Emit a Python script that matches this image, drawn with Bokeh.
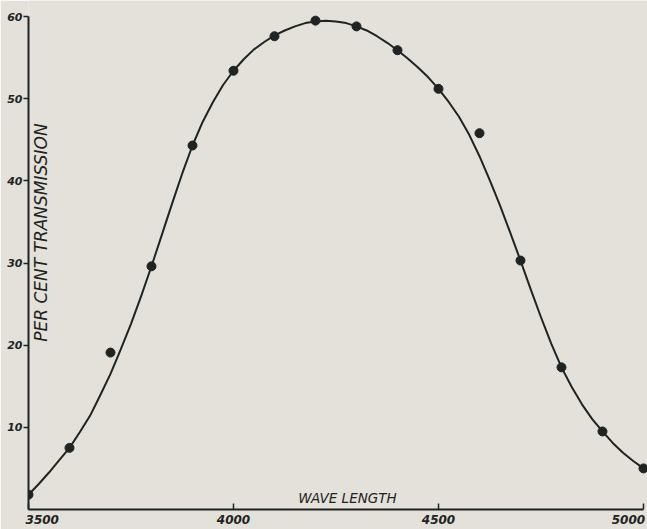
import math
from bokeh.plotting import figure
from bokeh.models import Range1d, Label, FixedTicker
from bokeh.embed import file_html
from bokeh.resources import INLINE

# Measured transmission points
dot_wl = [3500, 3600, 3700, 3800, 3900, 4000, 4100, 4200, 4300, 4400, 4500, 4600, 4700, 4800, 4900, 5000]
dot_pct = [1.8, 7.5, 19.1, 29.6, 44.3, 53.4, 57.6, 59.5, 58.8, 55.9, 51.2, 45.8, 30.3, 17.3, 9.5, 5.0]

# Smooth hand-drawn curve
curve_wl = [3500, 3525, 3550, 3575, 3600, 3625, 3650, 3675, 3700, 3725, 3750, 3775, 3800, 3825,
            3850, 3875, 3900, 3925, 3950, 3975, 4000, 4025, 4050, 4075, 4100, 4125, 4150, 4175,
            4200, 4225, 4250, 4275, 4300, 4325, 4350, 4375, 4400, 4425, 4450, 4475, 4500, 4525,
            4550, 4575, 4600, 4625, 4650, 4675, 4700, 4725, 4750, 4775, 4800, 4825, 4850, 4875,
            4900, 4925, 4950, 4975, 5000]
curve_pct = [1.8, 3.1, 4.5, 6.0, 7.5, 9.4, 11.4, 13.9, 16.5, 19.5, 22.6, 26.0, 29.6, 33.4,
             37.2, 40.9, 44.3, 47.2, 49.6, 51.7, 53.4, 54.8, 56.0, 56.9, 57.7, 58.3, 58.8, 59.2,
             59.4, 59.5, 59.4, 59.2, 58.8, 58.3, 57.6, 56.8, 55.9, 54.9, 53.8, 52.6, 51.2, 49.6,
             47.8, 45.6, 43.0, 40.1, 37.0, 33.7, 30.3, 26.8, 23.4, 20.2, 17.3, 14.9, 12.8, 11.0,
             9.5, 8.1, 6.9, 5.9, 5.0]

x_ticks = [3500, 4000, 4500, 5000]
x_tick_labels = ["3500", "4000", "4500", "5000"]
y_ticks = [10, 20, 30, 40, 50, 60]

PAPER = "#e3e1da"
INK = "#1f2322"
FS = "\u2007"  # figure space, nudges the first label to the right of its tick

p = figure(width=647, height=529, output_backend="svg", toolbar_location=None,
           x_range=Range1d(3500, 5009.8), y_range=Range1d(0, 61.95),
           min_border_left=28, min_border_right=0, min_border_top=0, min_border_bottom=20)
p.background_fill_color = PAPER
p.border_fill_color = PAPER
p.outline_line_color = None
p.xgrid.visible = False
p.ygrid.visible = False

# x axis
xa = p.xaxis[0]
xa.ticker = FixedTicker(ticks=x_ticks)
xa.bounds = (3500, 5000)
xa.axis_line_color = INK
xa.axis_line_width = 2
xa.major_tick_line_color = INK
xa.major_tick_line_width = 1.5
xa.major_tick_in = 6
xa.major_tick_out = 0
xa.minor_tick_line_color = None
overrides = {tv: tl for tv, tl in zip(x_ticks, x_tick_labels)}
overrides[x_ticks[0]] = FS * 3 + x_tick_labels[0]
overrides[x_ticks[-1]] = x_tick_labels[-1] + "\u2009"
xa.major_label_overrides = overrides
xa.major_label_standoff = 3
xa.major_label_text_font = "DejaVu Sans"
xa.major_label_text_font_style = "bold italic"
xa.major_label_text_font_size = "12px"
xa.major_label_text_color = INK

# y axis
ya = p.yaxis[0]
ya.ticker = FixedTicker(ticks=y_ticks)
ya.bounds = (0, 60)
ya.axis_line_color = INK
ya.axis_line_width = 2
ya.major_tick_line_color = INK
ya.major_tick_line_width = 1.5
ya.major_tick_in = 0
ya.major_tick_out = 5
ya.minor_tick_line_color = None
ya.major_label_standoff = 1
ya.major_label_text_font = "DejaVu Sans"
ya.major_label_text_font_style = "bold italic"
ya.major_label_text_font_size = "11px"
ya.major_label_text_color = INK

# curve and points
p.line(curve_wl, curve_pct, line_color=INK, line_width=2, line_join="round")
p.scatter(dot_wl, dot_pct, size=9, fill_color=INK, line_color=INK)

# axis titles drawn inside the frame
p.add_layout(Label(x=4278, y=1.35, text="WAVE LENGTH", text_align="center",
                   text_baseline="middle", text_font="DejaVu Sans", text_font_style="italic",
                   text_font_size="13.5px", text_color=INK))
p.add_layout(Label(x=3530, y=33.7, text="PER CENT TRANSMISSION", angle=math.pi / 2,
                   text_align="center", text_baseline="middle", text_font="DejaVu Sans",
                   text_font_style="italic", text_font_size="17px", text_color=INK))

open("out.html", "w").write(file_html(p, INLINE))
